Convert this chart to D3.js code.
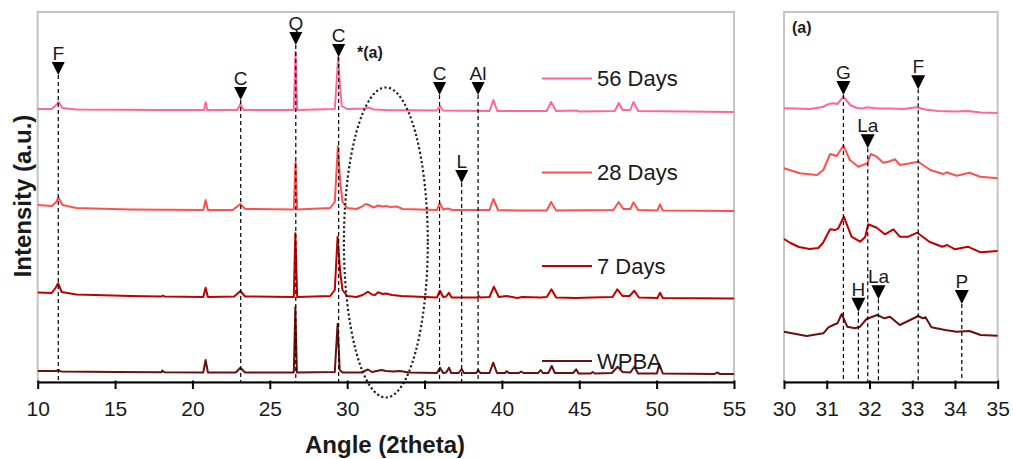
<!DOCTYPE html>
<html>
<head>
<meta charset="utf-8">
<script src="https://cdn.jsdelivr.net/npm/d3@7/dist/d3.min.js"></script>
<style>
  html, body { margin: 0; padding: 0; background: #fff; }
  svg { display: block; font-family: "Liberation Sans", Arial, sans-serif; }
</style>
</head>
<body>
<svg id="chart" width="1013" height="459"></svg>
<script>
// ---- XRD patterns, [2theta (deg), intensity (a.u., stacked offset included)] ----
const seriesNames = ["56 Days", "28 Days", "7 Days", "WPBA"];
const seriesColors = ["#ff6699", "#ff5050", "#c00000", "#6b1010"];

const days56 = [
  [10, 273], [10.9, 273], [11.2, 277], [11.35, 280.3], [11.6, 274], [12.5, 272.5],
  [18, 272], [20.75, 272], [20.85, 279.7], [20.95, 272], [22.9, 272], [23.1, 278],
  [23.3, 272], [26.55, 272], [26.66, 330], [26.77, 272], [29.2, 273], [29.32, 300],
  [29.42, 325], [29.52, 300], [29.65, 276], [30, 273], [31.1, 273.5], [31.4, 274.5],
  [31.7, 272.5], [32.5, 272], [35.8, 271.5], [36.0, 276], [36.2, 271.5], [39.2, 271],
  [39.45, 282], [39.7, 271], [42.9, 271], [43.18, 280], [43.5, 271], [44.8, 271.5],
  [45, 270.5], [47.3, 271], [47.55, 279], [47.8, 272], [48.3, 272], [48.5, 280],
  [48.8, 271], [55, 270]
];

const days28 = [
  [10, 177], [10.9, 176], [11.2, 180], [11.33, 184.7], [11.6, 177], [12.5, 174],
  [16, 172.5], [20.7, 172], [20.85, 182], [21.0, 172], [22.6, 172], [23.1, 178],
  [23.4, 173], [26.55, 172.5], [26.66, 220], [26.77, 172.5], [28.9, 174], [29.2, 180],
  [29.4, 236], [29.55, 200], [29.7, 180], [30.0, 174], [30.6, 173], [30.9, 175],
  [31.2, 178], [31.4, 177], [31.7, 174.5], [32.0, 176.5], [32.3, 175.5], [32.5, 176],
  [32.8, 175], [33.2, 175.5], [33.6, 173], [35.8, 172], [35.98, 179], [36.2, 172.5],
  [36.5, 173.5], [36.8, 172], [39.2, 172], [39.45, 183], [39.75, 172], [41, 171.5],
  [42.9, 171.5], [43.18, 180], [43.5, 171.5], [47.2, 172], [47.55, 180], [47.85, 173],
  [48.3, 173], [48.5, 179.7], [48.8, 172], [50.05, 171.5], [50.22, 177.7], [50.4, 171.5],
  [55, 171]
];

const days7 = [
  [10, 89.5], [10.9, 89], [11.15, 94], [11.32, 98.7], [11.55, 90], [12.5, 87.5],
  [16, 86], [18, 85.5], [18.1, 86.5], [18.2, 85.5], [20.7, 85], [20.85, 94.3],
  [21.0, 85], [22.7, 85.5], [23.1, 91], [23.4, 85.5], [26.55, 85], [26.65, 148.7],
  [26.77, 85], [28.9, 86], [29.2, 92], [29.38, 145.3], [29.55, 110], [29.7, 92],
  [30.0, 86], [30.6, 85], [31.0, 87], [31.35, 90.3], [31.6, 87.5], [31.8, 87],
  [32.0, 89.7], [32.3, 88], [32.5, 88.5], [32.9, 87], [33.5, 86], [35.8, 84.5],
  [36.0, 91.3], [36.2, 85], [36.4, 85.5], [36.58, 89.3], [36.75, 84.5], [38.4, 84.5],
  [38.5, 86], [38.6, 84.5], [39.2, 85], [39.48, 95.3], [39.8, 85], [40.3, 86],
  [41, 84], [41.3, 85], [42.5, 84.5], [42.9, 85], [43.2, 92.7], [43.5, 84.5],
  [44.8, 84], [45.8, 84.5], [47.15, 85], [47.46, 92.7], [47.8, 86], [48.25, 86],
  [48.56, 91.3], [48.85, 84.5], [50.05, 84], [50.22, 89.3], [50.4, 84], [55, 83.5]
];

const wpba = [
  [10, 11], [11.2, 11], [11.35, 12], [11.5, 10.5], [15, 10], [18.0, 9.7],
  [18.05, 11.5], [18.2, 9.7], [20.7, 9.5], [20.85, 22], [21.0, 9.5], [22.8, 9.5],
  [23.1, 14.3], [23.4, 9.5], [26.55, 9.5], [26.65, 74.7], [26.75, 9.5], [29.2, 10],
  [29.38, 58], [29.52, 12], [29.7, 9.5], [30.9, 9.5], [31.35, 12.5], [31.6, 10],
  [32.23, 12], [32.5, 11], [33.0, 10.5], [33.4, 11], [34.0, 9.5], [35.8, 9],
  [36.0, 14.3], [36.2, 9], [36.4, 9.5], [36.58, 14.3], [36.72, 9], [37.2, 9],
  [37.4, 13], [37.55, 9], [38.35, 9], [38.47, 12], [38.6, 9], [39.2, 9],
  [39.44, 19.3], [39.68, 9], [40.2, 9], [40.31, 10.8], [40.45, 9], [41.1, 9],
  [41.25, 10.5], [41.4, 9], [42.35, 9], [42.5, 12], [42.65, 9], [43.0, 9],
  [43.22, 16], [43.42, 9], [44.6, 9], [44.8, 12.7], [44.95, 8.5], [45.75, 8.5],
  [45.87, 10], [46, 8.5], [47.1, 9], [47.48, 15.3], [47.8, 10], [48.3, 9.5],
  [48.56, 15.3], [48.8, 8.5], [50.02, 8.5], [50.17, 17.7], [50.4, 8.5], [53.75, 8],
  [53.9, 9.5], [54.1, 8], [55, 8]
];

// ---- detail (a): 30-35 deg, vertically expanded ----
const inset56 = [
  [30.0, 273.7], [30.3, 273.5], [30.6, 273], [30.9, 275], [31.05, 278], [31.15, 278.7],
  [31.25, 278], [31.39, 285.3], [31.55, 277], [31.7, 274], [31.85, 273.5], [31.94, 274.7],
  [32.2, 273.5], [32.5, 273.5], [32.8, 273], [33.1, 274.7], [33.3, 272.5], [33.6, 271],
  [34.0, 270.5], [34.3, 271], [34.6, 269.5], [35.0, 269]
];
const inset28 = [
  [30.0, 213.7], [30.37, 208.7], [30.77, 207], [30.92, 212], [31.08, 228], [31.23, 226],
  [31.39, 236.3], [31.54, 222], [31.74, 215.3], [31.95, 218.7], [32.03, 228], [32.17, 225.3],
  [32.32, 219.3], [32.44, 220.3], [32.6, 222.7], [32.71, 217], [32.95, 218.7], [33.14, 220.3],
  [33.42, 212], [33.73, 208], [33.8, 209.7], [34.04, 206.3], [34.34, 209.3], [34.59, 205.3],
  [35.0, 203.7]
];
const inset7 = [
  [30.0, 143], [30.15, 139], [30.35, 135], [30.6, 133], [30.8, 134], [30.91, 139],
  [31.02, 148], [31.08, 152.7], [31.2, 152], [31.27, 153.7], [31.4, 165.3], [31.58, 145.3],
  [31.78, 140.3], [31.9, 145], [31.97, 157.7], [32.17, 154.3], [32.36, 147.7], [32.56, 152.7],
  [32.71, 145.3], [32.91, 145.3], [33.12, 149.3], [33.4, 140.3], [33.7, 135.3], [33.82, 137],
  [34.0, 132.7], [34.3, 135.3], [34.6, 129.7], [35.0, 131]
];
const insetWpba = [
  [30.0, 50.3], [30.53, 46], [30.92, 48.7], [31.04, 54.7], [31.15, 57], [31.25, 58.7],
  [31.35, 68], [31.48, 55.3], [31.66, 53.7], [31.78, 55.3], [31.93, 63], [32.18, 67],
  [32.35, 63.7], [32.48, 65.3], [32.71, 57], [32.95, 62], [33.14, 66], [33.25, 63.7],
  [33.31, 64.7], [33.45, 54.7], [33.77, 52], [34.04, 50.3], [34.34, 51], [34.6, 47],
  [35.0, 46.3]
];

// ---- phase markers: label, 2theta, marker tip (a.u.) ----
const mainMarkerLabels = ["F", "C", "Q", "C", "C", "L", "Al"];
const mainMarkerAngles = [11.33, 23.12, 26.68, 29.45, 35.97, 37.4, 38.46];
const mainMarkerTips   = [307, 282, 337, 325, 287, 199, 287];

const insetMarkerLabels = ["G", "F", "La", "H", "La", "P"];
const insetMarkerAngles = [31.39, 33.14, 31.96, 31.74, 32.21, 34.16];
const insetMarkerTips   = [287, 292.7, 233.7, 70.3, 82.7, 78];

const mainTicks  = [10, 15, 20, 25, 30, 35, 40, 45, 50, 55];
const insetTicks = [30, 31, 32, 33, 34, 35];

// highlighted region shown in detail (a): centre 2theta / intensity, half-widths
const regionCenter = [32.5, 139.5];
const regionHalf   = [2.71, 155];

// ---------------------------------------------------------------------------
const svg = d3.select("#chart");
const plotTop = 12, plotBottom = 382;

const y = d3.scaleLinear().domain([0, 370]).range([plotBottom, plotTop]);
const xMain  = d3.scaleLinear().domain([10, 55]).range([37.7, 734]);
const xInset = d3.scaleLinear().domain([30, 35]).range([784, 997.7]);

const mainSeries  = [days56, days28, days7, wpba];
const insetSeries = [inset56, inset28, inset7, insetWpba];

function panel(x) {
  const g = svg.append("g");
  // plot frame
  g.append("rect")
    .attr("x", x.range()[0]).attr("y", plotTop)
    .attr("width", x.range()[1] - x.range()[0]).attr("height", plotBottom - plotTop)
    .attr("fill", "none").attr("stroke", "#c4c4c4").attr("stroke-width", 2);
  return g;
}

function drawAxis(g, x, ticks) {
  const ax = g.append("g").attr("transform", `translate(0,${plotBottom})`)
    .call(d3.axisBottom(x).tickValues(ticks).tickSizeInner(7).tickSizeOuter(0).tickPadding(12)
      .tickFormat(d3.format("d")));
  ax.select(".domain").attr("stroke", "#000").attr("stroke-width", 2.2);
  ax.selectAll(".tick line").attr("stroke", "#000").attr("stroke-width", 2).attr("y1", -1.5);
  ax.selectAll(".tick text").attr("fill", "#1a1a1a")
    .style("font-family", "'Liberation Sans', Arial, sans-serif").style("font-size", "21px");
}

function drawMarkers(g, x, labels, angles, tips, size) {
  labels.forEach((lab, i) => {
    const cx = x(angles[i]), ty = y(tips[i]);
    g.append("line")
      .attr("x1", cx).attr("x2", cx).attr("y1", ty).attr("y2", plotBottom)
      .attr("stroke", "#000").attr("stroke-width", 1.2).attr("stroke-dasharray", "4,3");
    g.append("path")
      .attr("d", `M${cx - size / 2},${ty - size} L${cx + size / 2},${ty - size} L${cx},${ty} Z`)
      .attr("fill", "#000");
    g.append("text")
      .attr("x", cx).attr("y", ty - size - 2)
      .attr("text-anchor", "middle")
      .style("font-size", "19px").attr("fill", "#1a1a1a")
      .text(lab);
  });
}

const line = (x) => d3.line().x(d => x(d[0])).y(d => y(d[1]));

// ---- main panel ----
const gMain = panel(xMain);
mainSeries.forEach((s, i) => {
  gMain.append("path").datum(s)
    .attr("d", line(xMain))
    .attr("fill", "none").attr("stroke", seriesColors[i])
    .attr("stroke-width", 2).attr("stroke-linejoin", "round");
});
drawMarkers(gMain, xMain, mainMarkerLabels, mainMarkerAngles, mainMarkerTips, 13);

// dotted ellipse around the 30-35 deg region
gMain.append("ellipse")
  .attr("cx", xMain(regionCenter[0])).attr("cy", y(regionCenter[1]))
  .attr("rx", xMain(regionCenter[0] + regionHalf[0]) - xMain(regionCenter[0]))
  .attr("ry", y(regionCenter[1] - regionHalf[1]) - y(regionCenter[1]))
  .attr("fill", "none").attr("stroke", "#222").attr("stroke-width", 2.2)
  .attr("stroke-dasharray", "2.2,2.4");

gMain.append("text").attr("x", 357).attr("y", 58)
  .style("font-size", "16px").style("font-weight", "bold").attr("fill", "#1a1a1a")
  .text("*(a)");

// legend
const legendY = [78.5, 172.5, 266, 361];
seriesNames.forEach((name, i) => {
  gMain.append("line")
    .attr("x1", 542).attr("x2", 592).attr("y1", legendY[i]).attr("y2", legendY[i])
    .attr("stroke", seriesColors[i]).attr("stroke-width", 2);
  gMain.append("text")
    .attr("x", 597).attr("y", legendY[i] + 7.5)
    .style("font-size", "22px").attr("fill", "#1a1a1a")
    .text(name);
});
drawAxis(gMain, xMain, mainTicks);

// ---- detail panel (a) ----
const gInset = panel(xInset);
insetSeries.forEach((s, i) => {
  gInset.append("path").datum(s)
    .attr("d", line(xInset))
    .attr("fill", "none").attr("stroke", seriesColors[i])
    .attr("stroke-width", 2).attr("stroke-linejoin", "round");
});
drawMarkers(gInset, xInset, insetMarkerLabels, insetMarkerAngles, insetMarkerTips, 14);
gInset.append("text").attr("x", 792).attr("y", 33)
  .style("font-size", "16px").style("font-weight", "bold").attr("fill", "#1a1a1a")
  .text("(a)");
drawAxis(gInset, xInset, insetTicks);

// ---- axis titles ----
svg.append("text")
  .attr("transform", "translate(31,196) rotate(-90)")
  .attr("text-anchor", "middle")
  .style("font-size", "24px").style("font-weight", "bold").attr("fill", "#1a1a1a")
  .text("Intensity (a.u.)");
svg.append("text")
  .attr("x", 385).attr("y", 453)
  .attr("text-anchor", "middle")
  .style("font-size", "24px").style("font-weight", "bold").attr("fill", "#1a1a1a")
  .text("Angle (2theta)");
</script>
</body>
</html>
